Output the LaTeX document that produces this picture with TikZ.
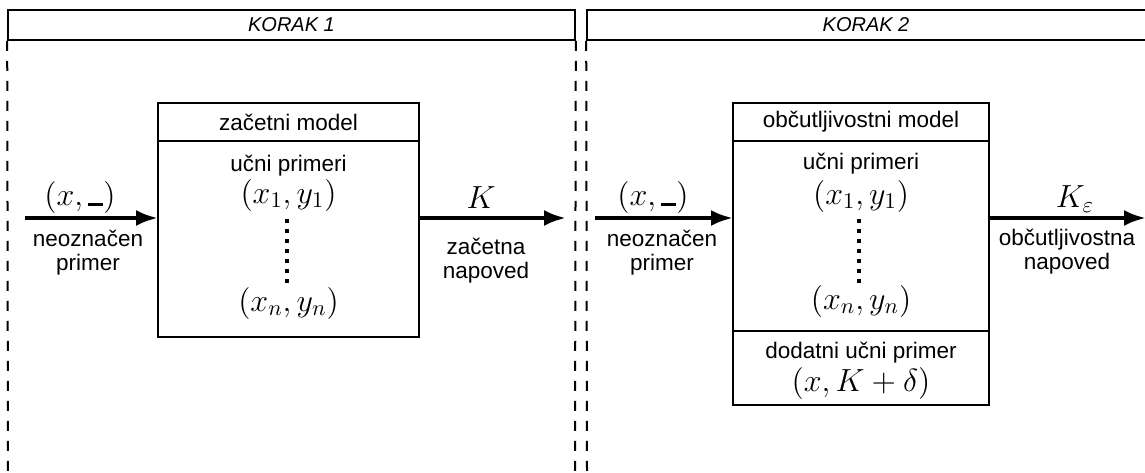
\RequirePackage{fix-cm}
\documentclass[tikz,border=0pt]{standalone}
\usepackage{fontspec}
\setmainfont{Liberation Sans}
\usetikzlibrary{arrows.meta}
\newcommand{\blank}{\rule[-0.04em]{0.47em}{0.09em}}
\begin{document}
\begin{tikzpicture}[x=0.5pt,y=-0.5pt,
  txt/.style={font=\fontsize{11.25}{12}\selectfont, inner sep=0pt, align=center},
  mth/.style={font=\fontsize{16}{18}\selectfont, inner sep=0pt},
  hdr/.style={draw, line width=0.8pt, font=\fontsize{10}{12}\selectfont\itshape, inner sep=0pt},
  mbox/.style={draw, line width=1.45pt, inner sep=0pt},
  sep/.style={line width=1pt, dash pattern=on 5pt off 5pt},
  flow/.style={line width=2pt, -{Latex[length=11pt,width=8pt]}},
  vdots/.style={line width=1.8pt, dash pattern=on 2pt off 3pt},
  divider/.style={line width=1.45pt}]
\useasboundingbox (0,0) rectangle (1145,472);

% headers
\node[hdr, minimum width=283.5pt, minimum height=15pt] (h1) at (291.5,25) {KORAK 1};
\node[hdr, minimum width=280pt, minimum height=15pt] (h2) at (867,25) {};
\node[font=\fontsize{10}{12}\selectfont\itshape, inner sep=0pt] (h2t) at (866,25) {KORAK 2};

% dashed separators
\coordinate (d1) at (8,472);
\coordinate (d2) at (575,472);
\coordinate (d3) at (587,472);
\draw[sep] (h1.south west) -- (d1);
\draw[sep] (h1.south east) -- (d2);
\draw[sep] (h2.south west) -- (d3);

% ---------- step 1 ----------
\node[mbox, minimum width=130.5pt, minimum height=117pt] (m1) at (288.5,220) {};
\coordinate (m1d) at (158,141);
\draw[divider] (m1d) -- (m1d -| m1.east);
\node[txt] (m1t) at (288.5,122) {začetni model};
\node[txt] (m1u) at (288.5,166) {učni primeri};
\node[mth] (m1a) at (288.5,195) {$(x_1,y_1)$};
\node[mth] (m1b) at (288.5,303) {$(x_n,y_n)$};
\coordinate (m1s) at (287,219);
\coordinate (m1e) at (287,285);
\draw[vdots] (m1s) -- (m1e);

\coordinate (in1) at (25,218);
\coordinate (m1in) at (158,218);
\draw[flow] (in1) -- (m1in);
\node[mth] (x1) at (80,197) {$(x,\blank)$};
\node[txt] (l1) at (88,253) {neoznačen\\primer};

\coordinate (m1out) at (419,218);
\coordinate (o1) at (566,218);
\draw[flow] (m1out) -- (o1);
\node[mth] (k1) at (481,198) {$K$};
\node[txt] (l2) at (486,261) {začetna\\napoved};

% ---------- step 2 ----------
\node[mbox, minimum width=128pt, minimum height=151pt] (m2) at (861,254) {};
\coordinate (m2d) at (733,141);
\coordinate (m2f) at (733,331);
\draw[divider] (m2d) -- (m2d -| m2.east);
\draw[divider] (m2f) -- (m2f -| m2.east);
\node[txt] (m2t) at (861,122) {občutljivostni model};
\node[txt] (m2u) at (861,164) {učni primeri};
\node[mth] (m2a) at (861,196) {$(x_1,y_1)$};
\node[mth] (m2b) at (861,301) {$(x_n,y_n)$};
\coordinate (m2s) at (859,219);
\coordinate (m2e) at (859,285);
\draw[vdots] (m2s) -- (m2e);
\node[txt] (m2g) at (861,353) {dodatni učni primer};
\node[mth] (m2h) at (861,383) {$(x,K+\delta)$};

\coordinate (in2) at (595,218);
\coordinate (m2in) at (733,218);
\draw[flow] (in2) -- (m2in);
\node[mth] (x2) at (653,197) {$(x,\blank)$};
\node[txt] (l3) at (662,253) {neoznačen\\primer};

\coordinate (m2out) at (989,218);
\coordinate (o2) at (1146,218);
\draw[flow] (m2out) -- (o2);
\node[mth] (k2) at (1075,199) {$K_\varepsilon$};
\node[txt] (l4) at (1067,252) {občutljivostna\\napoved};
\end{tikzpicture}
\end{document}
